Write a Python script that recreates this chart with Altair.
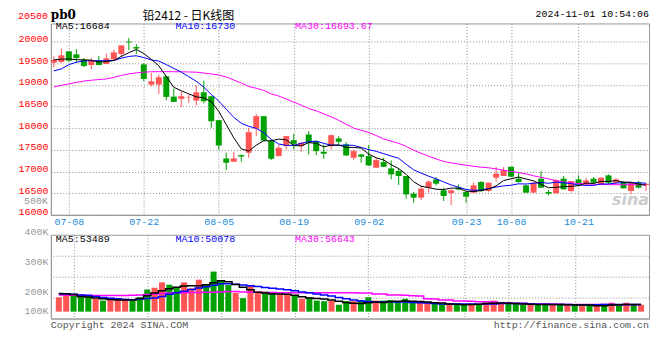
import altair as alt
import pandas as pd

# ---------------- data ----------------
holidays = ["2024-09-16", "2024-09-17", "2024-10-01", "2024-10-02",
            "2024-10-03", "2024-10-04", "2024-10-07"]
days = [d for d in pd.bdate_range("2024-07-04", "2024-11-01")
        if d.strftime("%Y-%m-%d") not in holidays]
dates = [d.strftime("%m-%d") for d in days]
tick_dates = ["07-08", "07-22", "08-05", "08-19", "09-02", "09-23", "10-08", "10-21"]

opens = [19509, 19525, 19770, 19701, 19586, 19456, 19555, 19479, 19586, 19709,
         19995, 19870, 19471, 19003, 19003, 19195, 18727, 18674, 18710, 18635,
         18827, 18735, 18183, 17301, 17225, 17378, 17432, 17991, 18275, 17715,
         17355, 17585, 17723, 17585, 17853, 17700, 17455, 17585, 17761, 17623,
         17317, 17393, 17355, 17087, 17217, 17071, 17010, 16895, 16489, 16397,
         16627, 16818, 16565, 16504, 16627, 16527, 16512, 16757, 16550, 16857,
         16895, 17110, 16834, 16680, 16512, 16834, 16527, 16497, 16834, 16550,
         16818, 16703, 16834, 16688, 16910, 16742, 16757, 16550, 16742, 16688]
highs = [19655, 19831, 19775, 19824, 19617, 19617, 19663, 19716, 19808, 19908,
         20077, 19939, 19500, 19272, 19233, 19200, 18911, 18850, 18773, 18988,
         19095, 18735, 18183, 17432, 17447, 17393, 18007, 18329, 18275, 17738,
         17623, 17815, 17869, 17677, 17930, 17715, 17623, 17853, 17815, 17677,
         17508, 17400, 17608, 17317, 17317, 17255, 17071, 16895, 16527, 16665,
         16795, 16872, 16627, 16588, 16703, 16550, 16742, 16780, 16742, 17102,
         17102, 17110, 16972, 16690, 16765, 17010, 16573, 16818, 16895, 16780,
         16910, 16857, 16872, 16870, 16933, 16850, 16780, 16742, 16780, 16719]
lows = [19402, 19502, 19525, 19502, 19410, 19356, 19450, 19479, 19563, 19647,
        19801, 19709, 19080, 18965, 18789, 18643, 18600, 18490, 18582, 18520,
        18570, 18007, 17508, 17033, 17225, 17225, 17317, 17815, 17700, 17263,
        17355, 17508, 17508, 17455, 17393, 17378, 17294, 17508, 17623, 17355,
        17263, 17202, 17125, 17087, 17110, 16818, 16688, 16374, 16282, 16343,
        16512, 16680, 16320, 16228, 16570, 16282, 16512, 16527, 16530, 16765,
        16895, 16872, 16742, 16505, 16512, 16620, 16450, 16497, 16588, 16512,
        16665, 16665, 16720, 16688, 16703, 16720, 16611, 16473, 16610, 16550]
closes = [19571, 19678, 19555, 19617, 19433, 19555, 19456, 19609, 19747, 19908,
          19975, 19835, 19134, 19080, 19172, 18720, 18605, 18735, 18720, 18827,
          18620, 18160, 17600, 17202, 17301, 17345, 17907, 18275, 17715, 17294,
          17547, 17815, 17639, 17662, 17662, 17470, 17410, 17838, 17685, 17370,
          17470, 17340, 17140, 17263, 17110, 16933, 16895, 16473, 16397, 16604,
          16765, 16719, 16435, 16565, 16585, 16420, 16680, 16550, 16742, 16949,
          17033, 16880, 16757, 16512, 16742, 16627, 16490, 16803, 16588, 16780,
          16703, 16795, 16742, 16857, 16742, 16818, 16611, 16742, 16627, 16719]
ma5 = [19575, 19590, 19595, 19580, 19571, 19568, 19523, 19534, 19560, 19655,
       19739, 19815, 19720, 19586, 19439, 19188, 18942, 18862, 18790, 18721,
       18701, 18612, 18385, 18082, 17777, 17522, 17471, 17606, 17709, 17707,
       17748, 17729, 17602, 17591, 17665, 17650, 17569, 17608, 17613, 17555,
       17555, 17541, 17401, 17317, 17265, 17157, 17068, 16935, 16762, 16660,
       16627, 16592, 16584, 16618, 16614, 16545, 16537, 16560, 16595, 16668,
       16791, 16831, 16872, 16826, 16785, 16704, 16626, 16635, 16650, 16658,
       16673, 16734, 16722, 16775, 16768, 16791, 16754, 16754, 16708, 16684]
ma10 = [19320, 19365, 19463, 19520, 19550, 19555, 19555, 19555, 19560, 19613,
        19653, 19669, 19627, 19573, 19547, 19464, 19379, 19291, 19188, 19080,
        18945, 18777, 18624, 18436, 18249, 18112, 18042, 17996, 17895, 17742,
        17635, 17600, 17604, 17650, 17686, 17699, 17649, 17605, 17602, 17610,
        17602, 17555, 17505, 17465, 17410, 17356, 17304, 17168, 17039, 16963,
        16892, 16830, 16759, 16690, 16637, 16586, 16564, 16572, 16607, 16641,
        16668, 16684, 16716, 16711, 16727, 16747, 16728, 16754, 16738, 16721,
        16688, 16680, 16678, 16713, 16713, 16732, 16744, 16738, 16742, 16730]
ma30 = [18950, 18985, 19020, 19055, 19085, 19105, 19120, 19135, 19170, 19215,
        19250, 19275, 19290, 19300, 19302, 19302, 19300, 19300, 19295, 19290,
        19270, 19250, 19225, 19180, 19110, 19040, 18960, 18920, 18870, 18790,
        18740, 18670, 18600, 18530, 18450, 18400, 18330, 18260, 18180, 18090,
        18000, 17950, 17900, 17830, 17750, 17700, 17650, 17580, 17490, 17420,
        17355, 17290, 17230, 17200, 17170, 17145, 17120, 17100, 17085, 17060,
        17030, 17000, 16975, 16945, 16900, 16865, 16830, 16790, 16760, 16740,
        16725, 16715, 16705, 16700, 16698, 16696, 16695, 16694, 16694, 16694]
# volume (K)
vols = [191, 199, 197, 199, 194, 186, 180, 188, 186, 186,
        180, 191, 217, 223, 241, 233, 224, 241, 221, 250,
        233, 277, 247, 232, 206, 188, 230, 206, 210, 208,
        202, 202, 199, 186, 191, 180, 178, 180, 166, 178,
        178, 182, 191, 180, 180, 182, 178, 186, 178, 174,
        174, 172, 169, 169, 169, 167, 167, 169, 174, 180,
        174, 169, 169, 166, 169, 166, 169, 167, 166, 166,
        166, 164, 166, 164, 169, 173, 167, 173, 166, 166]
vma5 = [204, 203, 200, 194, 192, 189, 186, 184, 182, 182,
        182, 187, 196, 205, 213, 220, 225, 229, 230, 230,
        233, 240, 246, 243, 234, 225, 216, 208, 205, 202,
        202, 201, 198, 193, 189, 187, 185, 182, 178, 174,
        171, 170, 173, 175, 174, 177, 178, 179, 178, 177,
        175, 173, 172, 169, 168, 166, 167, 168, 170, 171,
        172, 171, 170, 169, 168, 167, 167, 167, 167, 166,
        166, 165, 165, 163, 163, 165, 166, 167, 167, 167]
vma10 = [202, 202, 201, 199, 197, 194, 190, 188, 186, 184,
         183, 185, 187, 189, 194, 201, 206, 211, 217, 222,
         226, 231, 236, 236, 235, 232, 230, 227, 224, 221,
         219, 216, 213, 209, 206, 202, 199, 195, 190, 186,
         182, 179, 177, 175, 175, 176, 175, 175, 174, 173,
         172, 170, 169, 169, 169, 169, 169, 168, 169, 169,
         170, 170, 170, 170, 169, 168, 168, 167, 167, 167,
         166, 166, 166, 166, 167, 167, 167, 167, 167, 167]
vma30 = [199, 199, 198, 198, 198, 197, 197, 197, 197, 197,
         198, 199, 200, 202, 204, 205, 206, 206, 207, 207,
         208, 208, 209, 210, 210, 209, 208, 208, 207, 207,
         206, 206, 206, 206, 206, 206, 206, 206, 206, 206,
         206, 205, 205, 202, 202, 199, 199, 198, 196, 195,
         186, 185, 182, 182, 179, 179, 178, 176, 176, 175,
         173, 173, 171, 171, 169, 169, 169, 169, 168, 167,
         167, 167, 167, 167, 167, 167, 166, 166, 166, 166]

title_code = "pb0"
title_name = "铅2412 - 日K线图"
stamp = "2024-11-01 10:54:06"
price_ma_text = ["MA5:16684", "MA10:16730", "MA30:16693.67"]
vol_ma_text = ["MA5:53489", "MA10:50078", "MA30:56643"]
price_ticks = list(range(16000, 20001, 500))
vol_ticks = [400, 300, 200]

df = pd.DataFrame({
    "idx": list(range(len(dates))), "date": dates,
    "open": opens, "high": highs, "low": lows, "close": closes,
    "ma5": ma5, "ma10": ma10, "ma30": ma30,
    "vol": vols, "vma5": vma5, "vma10": vma10, "vma30": vma30,
})
df["dir"] = ["up" if c >= o else "down" for o, c in zip(opens, closes)]

# ---------------- style ----------------
UP, DOWN = "#ff5555", "#00a000"
BLUE_TXT = "#1a8cd8"
GRID = "#8c8c8c"
FRAME = "#999999"
MONO = "Liberation Mono"
W, PH, VH = 600, 192, 84

color_enc = alt.Color("dir:N", scale=alt.Scale(domain=["up", "down"], range=[UP, DOWN]), legend=None)
xs = alt.Scale(domain=[-0.4, 79.4], nice=False, zero=False)
tick_idx = [dates.index(d) for d in tick_dates]
label_expr = "[" + ",".join("'%s'" % d for d in dates) + "][datum.value]"

grid_kw = dict(grid=True, gridColor=GRID, gridDash=[1, 2], gridWidth=1)
x_price = alt.X("idx:Q", scale=xs, title=None, axis=alt.Axis(
    values=tick_idx, labelExpr=label_expr, labelColor=BLUE_TXT, labelFont=MONO,
    labelFontSize=10, labelPadding=2, labelFlush=False, labelOverlap=False,
    ticks=False, domainColor=FRAME, **grid_kw))
x_vol = alt.X("idx:Q", scale=xs, title=None, axis=alt.Axis(
    values=tick_idx, labels=False, ticks=False, domainColor=FRAME, **grid_kw))

ys = alt.Scale(domain=[16000, 20414], nice=False, zero=False)
y_axis = alt.Axis(values=price_ticks, format="d", labelColor="#ff0000", labelFont=MONO,
                  labelFontSize=10, labelPadding=3, labelOffset=-3, ticks=False,
                  domainColor=FRAME, **grid_kw)


def py(field):
    return alt.Y(field, scale=ys, title=None, axis=y_axis)


vs = alt.Scale(domain=[120, 400], nice=False, zero=False)
vy_axis = alt.Axis(values=vol_ticks + [136.7], labelColor="#999999", labelFont=MONO, labelFontSize=10,
                   labelPadding=3, labelOffset=-3, ticks=False, domainColor=FRAME, grid=False,
                   labelExpr="datum.value < 150 ? '100K' : datum.value + 'K'")
vgrid_axis = alt.Axis(orient="right", values=[330, 260, 190], labels=False, ticks=False,
                      domain=False, **grid_kw)


def txt(s, x, y, color="black", size=10, font=MONO, align="left", baseline="middle", **kw):
    return alt.Chart(alt.Data(values=[{}])).mark_text(
        text=s, color=color, fontSize=size, font=font, align=align, baseline=baseline, **kw
    ).encode(x=alt.value(x), y=alt.value(y))


base = alt.Chart(df)

# ---------------- price panel ----------------
wick = base.mark_rule(strokeWidth=1).encode(x=x_price, y=py("low:Q"), y2="high:Q", color=color_enc)
body = base.mark_rule(strokeWidth=6).encode(x=x_price, y=py("open:Q"), y2="close:Q", color=color_enc)
l5 = base.mark_line(color="#000000", strokeWidth=1).encode(x=x_price, y=py("ma5:Q"))
l10 = base.mark_line(color="#0000ff", strokeWidth=1).encode(x=x_price, y=py("ma10:Q"))
l30 = base.mark_line(color="#ff00ff", strokeWidth=1).encode(x=x_price, y=py("ma30:Q"))

price = alt.layer(
    txt("sina", 600, 177, color="#cccccc", size=16, font="DejaVu Sans", align="right",
        fontWeight="bold", fontStyle="italic"),
    wick, body, l30, l10, l5,
    txt(title_code, 0, -4, size=12, font="DejaVu Serif", fontWeight="bold", baseline="alphabetic"),
    txt(title_name, 92, -3, size=12, font="Noto Sans CJK SC", baseline="alphabetic"),
    txt(stamp, 600, -6, align="right", baseline="alphabetic"),
    txt("20500", -3, -7, color="#ff0000", align="right"),
    txt("500K", -3, 178, color="#999999", align="right"),
    txt(price_ma_text[0], 5, 3, color="#000000"),
    txt(price_ma_text[1], 125, 3, color="#0000ff"),
    txt(price_ma_text[2], 245, 3, color="#ff00ff"),
).properties(width=W, height=PH)

# ---------------- volume panel ----------------
vbars = base.mark_bar(size=6).encode(
    x=x_vol, y=alt.Y("vol:Q", scale=vs, title=None, axis=vy_axis), y2=alt.datum(143), color=color_enc)
v5 = base.mark_line(color="#000000", strokeWidth=1.5, interpolate="step").encode(
    x=x_vol, y=alt.Y("vma5:Q", scale=vs, title=None, axis=vgrid_axis))
v10 = base.mark_line(color="#0000ff", strokeWidth=1.5, interpolate="step").encode(
    x=x_vol, y=alt.Y("vma10:Q", scale=vs, title=None, axis=None))
v30 = base.mark_line(color="#ff00ff", strokeWidth=1.5, interpolate="step").encode(
    x=x_vol, y=alt.Y("vma30:Q", scale=vs, title=None, axis=None))

volume = alt.layer(
    vbars, v30, v10, v5,
    txt(vol_ma_text[0], 5, 4, color="#000000"),
    txt(vol_ma_text[1], 125, 4, color="#0000ff"),
    txt(vol_ma_text[2], 245, 4, color="#ff00ff"),
    txt("Copyright 2024 SINA.COM", 0, 90, color="#555555"),
    txt("http://finance.sina.com.cn", 600, 90, color="#555555", align="right"),
).resolve_axis(y="independent").properties(width=W, height=VH)

chart = alt.vconcat(price, volume, spacing=20, bounds="flush").configure_view(
    stroke=FRAME, strokeWidth=1
).properties(padding={"left": 9, "top": 0, "right": 2, "bottom": 0}, background="white")

chart.save("out.html", embed_options={"renderer": "svg", "actions": False})
